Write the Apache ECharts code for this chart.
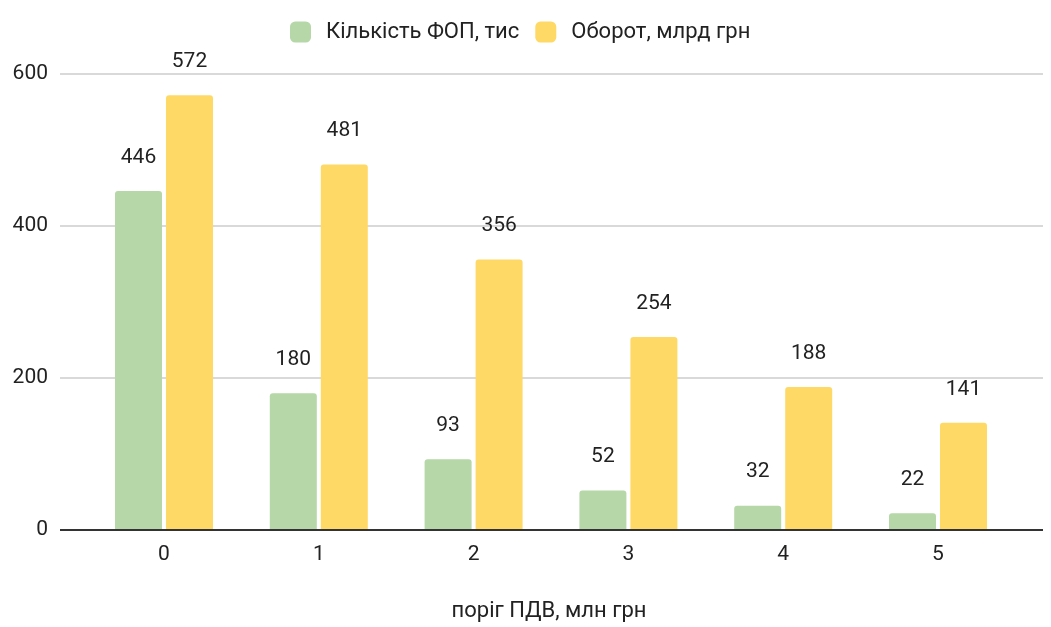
<!DOCTYPE html>
<html><head><meta charset="utf-8">
<script src="https://cdn.jsdelivr.net/npm/echarts@6/dist/echarts.min.js"></script>
<style>html,body{margin:0;padding:0;background:#fff}#c{width:1051px;height:627px}</style>
</head><body><div id="c"></div>
<script>
const categories = ['0', '1', '2', '3', '4', '5'];
const fopCount = [446, 180, 93, 52, 32, 22];
const turnover = [572, 481, 356, 254, 188, 141];
const yTicks = { min: 0, max: 600, interval: 200 };
const seriesNames = ['Кількість ФОП, тис', 'Оборот, млрд грн'];
const xTitle = 'поріг ПДВ, млн грн';

const FONT = 'Roboto, Arial, sans-serif';
const FS = 21;
const FT = 22;
const chart = echarts.init(document.getElementById('c'));
const label = {
  show: true, position: 'top', distance: 23,
  color: '#222', fontFamily: FONT, fontSize: FS
};
chart.setOption({
  animation: false,
  textStyle: { fontFamily: FONT },
  legend: {
    top: 16, left: 285,
    itemWidth: 21, itemHeight: 21, itemGap: 16,
    icon: 'roundRect',
    textStyle: { fontSize: FT, color: '#222', fontFamily: FONT, padding: [0, 0, 0, 10] },
    data: seriesNames
  },
  grid: [
    { left: 60, right: 8, top: 74, bottom: 97 },
    { left: 86.6, right: 35.6, top: 74, bottom: 97 }
  ],
  xAxis: [
    { gridIndex: 0, type: 'value', min: 0, max: 1, show: true,
      axisLine: { show: false }, axisTick: { show: false }, axisLabel: { show: false },
      splitLine: { show: false } },
    { gridIndex: 1, type: 'category', data: categories,
      axisLine: { show: false }, axisTick: { show: false },
      axisLabel: { color: '#222', fontSize: FS, fontFamily: FONT, margin: 14 } }
  ],
  yAxis: [
    { gridIndex: 0, type: 'value', min: yTicks.min, max: yTicks.max, interval: yTicks.interval,
      axisLine: { show: false }, axisTick: { show: false },
      axisLabel: { color: '#222', fontSize: FS, fontFamily: FONT, margin: 12 },
      splitLine: { lineStyle: { color: '#cccccc', width: 1.5 } } },
    { gridIndex: 1, type: 'value', min: yTicks.min, max: yTicks.max, interval: yTicks.interval,
      show: false, splitLine: { show: false } }
  ],
  graphic: [
    { type: 'line', z: 5, shape: { x1: 60, y1: 530, x2: 1043, y2: 530 },
      style: { stroke: '#333', lineWidth: 2 } },
    { type: 'text', x: 549, y: 611, style: { text: xTitle, fill: '#222', font: FT + 'px ' + FONT,
      textAlign: 'center', textVerticalAlign: 'middle' } }
  ],
  series: [
    { name: seriesNames[0], type: 'bar', xAxisIndex: 1, yAxisIndex: 1, data: fopCount,
      barWidth: 47, barGap: '8.5%',
      itemStyle: { color: '#b6d7a8', borderRadius: [3, 3, 0, 0] }, label },
    { name: seriesNames[1], type: 'bar', xAxisIndex: 1, yAxisIndex: 1, data: turnover,
      barWidth: 47,
      itemStyle: { color: '#ffd966', borderRadius: [3, 3, 0, 0] }, label }
  ]
});
</script></body></html>
